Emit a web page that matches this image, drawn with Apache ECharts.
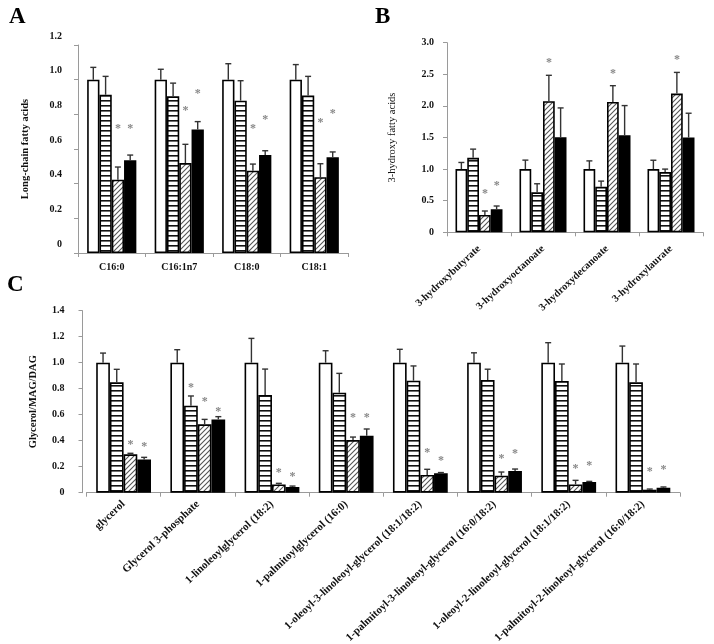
<!DOCTYPE html>
<html><head><meta charset="utf-8">
<script src="https://cdn.jsdelivr.net/npm/echarts@6/dist/echarts.min.js"></script>
<style>html,body{margin:0;padding:0;background:#fff}#c{width:714px;height:644px}</style>
</head><body><div id="c"></div>
<script>
// ---------- Panel A ----------
const catsA = ['C16:0','C16:1n7','C18:0','C18:1'];
const ticksA = [0,0.2,0.4,0.6,0.8,1.0,1.2];
const aWhite = [1,1,1,1];
const aWhiteErr = [1.071,1.06,1.092,1.087];
const aHbar = [0.913,0.904,0.879,0.908];
const aHbarErr = [1.019,0.98,0.994,1.019];
const aHatch = [0.423,0.519,0.475,0.437];
const aHatchErr = [0.496,0.627,0.513,0.515];
const aBlack = [0.535,0.712,0.565,0.552];
const aBlackErr = [0.565,0.758,0.59,0.583];
const aHatchStar = [0.735,0.837,0.735,0.765];
const aBlackStar = [0.735,0.933,0.788,0.821];
// ---------- Panel B ----------
const catsB = ['3-hydroxybutyrate','3-hydroxyoctanoate','3-hydroxydecanoate','3-hydroxylaurate'];
const ticksB = [0,0.5,1.0,1.5,2.0,2.5,3.0];
const bWhite = [1,1,1,1];
const bWhiteErr = [1.105,1.142,1.13,1.14];
const bHbar = [1.179,0.632,0.72,0.953];
const bHbarErr = [1.316,0.768,0.81,1.0];
const bHatch = [0.274,2.074,2.063,2.195];
const bHatchErr = [0.337,2.484,2.32,2.53];
const bBlack = [0.363,1.505,1.537,1.5];
const bBlackErr = [0.416,1.968,2.005,1.884];
const bHatchStar = [0.653,2.72,2.56,2.78];
const bBlackStar = [0.774,null,null,null];
// ---------- Panel C ----------
const catsC = ['glycerol','Glycerol 3-phosphate','1-linoleoylglycerol (18:2)','1-palmitoylglycerol (16:0)',
  '1-oleoyl-3-linoleoyl-glycerol (18:1/18:2)','1-palmitoyl-3-linoleoyl-glycerol (16:0/18:2)',
  '1-oleoyl-2-linoleoyl-glycerol (18:1/18:2)','1-palmitoyl-2-linoleoyl-glycerol (16:0/18:2)'];
const ticksC = [0,0.2,0.4,0.6,0.8,1.0,1.2,1.4];
const cWhite = [1,1,1,1,1,1,1,1];
const cWhiteErr = [1.074,1.10,1.187,1.092,1.103,1.076,1.154,1.128];
const cHbar = [0.849,0.669,0.751,0.769,0.862,0.867,0.859,0.849];
const cHbarErr = [0.949,0.744,0.951,0.918,0.975,0.95,0.99,0.99];
const cHatch = [0.295,0.526,0.064,0.405,0.136,0.131,0.064,0.023];
const cHatchErr = [0.303,0.564,0.072,0.428,0.18,0.159,0.095,0.028];
const cBlack = [0.256,0.564,0.044,0.438,0.149,0.167,0.082,0.038];
const cBlackErr = [0.272,0.585,0.051,0.49,0.155,0.182,0.087,0.044];
const cHbarStar = [null,0.833,null,null,null,null,null,null];
const cHatchStar = [0.392,0.718,0.179,0.597,0.328,0.285,0.208,0.182];
const cBlackStar = [0.379,0.641,0.146,0.598,0.264,0.318,0.226,0.2];

const FONT = "'Liberation Serif','Times New Roman',serif";

function stripeCanvas(){
  const c=document.createElement('canvas'); c.width=4; c.height=5;
  const g=c.getContext('2d'); g.fillStyle='#fff'; g.fillRect(0,0,4,5);
  g.fillStyle='#111'; g.fillRect(0,0,4,1.6); return c;
}
function hatchCanvas(){
  const c=document.createElement('canvas'); c.width=5; c.height=5;
  const g=c.getContext('2d'); g.fillStyle='#fff'; g.fillRect(0,0,5,5);
  g.strokeStyle='#555'; g.lineWidth=1.1; g.beginPath();
  g.moveTo(-1,6); g.lineTo(6,-1);
  g.moveTo(-1,1); g.lineTo(1,-1);
  g.moveTo(4,6); g.lineTo(6,4);
  g.stroke(); return c;
}
const fills = ['#ffffff', {image: stripeCanvas(), repeat:'repeat'}, {image: hatchCanvas(), repeat:'repeat'}, '#000000'];

function fmt(v){ return v===0 ? '0' : v.toFixed(1); }

function barSeries(idx, vals, k, bw){
  return {type:'bar', xAxisIndex:idx, yAxisIndex:idx, data:vals, barWidth:bw, barGap:'0%',
    itemStyle:{color:fills[k], borderColor:'#000', borderWidth:1.6}, silent:true, z:2};
}
function errSeries(idx, vals, errs, stars, bw){
  const data=[];
  for(let k=0;k<4;k++){
    for(let i=0;i<vals[k].length;i++){
      const s = stars[k] ? stars[k][i] : null;
      data.push([i,k,vals[k][i],errs[k][i], s==null?-1:s]);
    }
  }
  return {type:'custom', xAxisIndex:idx, yAxisIndex:idx, data, z:5, silent:true,
    renderItem:function(params, api){
      const cat=api.value(0), k=api.value(1), v=api.value(2), e=api.value(3), s=api.value(4);
      const p0=api.coord([cat,v]);
      const x=p0[0]+(k-1.5)*bw;
      const ch=[];
      const yt=api.coord([cat,e])[1];
      ch.push({type:'line',shape:{x1:x,y1:p0[1],x2:x,y2:yt},style:{stroke:'#333',lineWidth:1.4}});
      ch.push({type:'line',shape:{x1:x-3,y1:yt,x2:x+3,y2:yt},style:{stroke:'#333',lineWidth:1.4}});
      if(s>=0){
        const ys=api.coord([cat,s])[1];
        ch.push({type:'text',style:{x:x,y:ys+3,text:'*',fill:'#888',font:'bold 12px '+FONT,align:'center',verticalAlign:'middle'}});
      }
      return {type:'group',children:ch};
    }};
}

const axisLine={show:true,lineStyle:{color:'#9a9a9a',width:1}};
const axisTick={show:true,length:4,lineStyle:{color:'#9a9a9a'}};

const bwA=12.3, bwB=11.75, bwC=13.7;

const option={
  animation:false,
  backgroundColor:'#fff',
  grid:[
    {left:78,right:366,top:45,bottom:391,containLabel:false,outerBoundsMode:'none'},
    {left:447,right:11,top:42.7,bottom:411.7,containLabel:false,outerBoundsMode:'none'},
    {left:86.5,right:34,top:310.7,bottom:151.3,containLabel:false,outerBoundsMode:'none'}
  ],
  xAxis:[
    {type:'category',gridIndex:0,data:catsA,axisLine,axisTick,
     axisLabel:{fontFamily:FONT,fontWeight:'bold',fontSize:10,color:'#111',margin:9}},
    {type:'category',gridIndex:1,data:catsB,axisLine,axisTick,
     axisLabel:{fontFamily:FONT,fontWeight:'bold',fontSize:10.5,color:'#111',rotate:43,margin:15,interval:0}},
    {type:'category',gridIndex:2,data:catsC,axisLine,axisTick,
     axisLabel:{fontFamily:FONT,fontWeight:'bold',fontSize:11,color:'#111',rotate:43,margin:10,interval:0}}
  ],
  yAxis:[
    {type:'value',gridIndex:0,min:ticksA[0],max:ticksA[ticksA.length-1],interval:0.2,axisLine,axisTick,splitLine:{show:false},
     axisLabel:{fontFamily:FONT,fontWeight:'bold',fontSize:10,color:'#111',margin:16,formatter:fmt,verticalAlign:'bottom',padding:[0,0,4,0]},
     name:'Long-chain fatty acids',nameLocation:'middle',nameRotate:90,nameGap:47,
     nameTextStyle:{fontFamily:FONT,fontWeight:'bold',fontSize:10.5,color:'#111'}},
    {type:'value',gridIndex:1,min:ticksB[0],max:ticksB[ticksB.length-1],interval:0.5,axisLine,axisTick,splitLine:{show:false},
     axisLabel:{fontFamily:FONT,fontWeight:'bold',fontSize:10,color:'#111',margin:13,formatter:fmt},
     name:'3-hydroxy fatty acids',nameLocation:'middle',nameRotate:90,nameGap:49,
     nameTextStyle:{fontFamily:FONT,fontSize:10.5,color:'#111'}},
    {type:'value',gridIndex:2,min:ticksC[0],max:ticksC[ticksC.length-1],interval:0.2,offset:4,axisLine,axisTick,splitLine:{show:false},
     axisLabel:{fontFamily:FONT,fontWeight:'bold',fontSize:10,color:'#111',margin:18,formatter:fmt},
     name:'Glycerol/MAG/DAG',nameLocation:'middle',nameRotate:90,nameGap:44,
     nameTextStyle:{fontFamily:FONT,fontWeight:'bold',fontSize:10.5,color:'#111'}}
  ],
  graphic:[
    {type:'text',left:9,top:6,style:{text:'A',font:'bold 23px '+FONT,fill:'#000'}},
    {type:'text',left:375,top:6,style:{text:'B',font:'bold 23px '+FONT,fill:'#000'}},
    {type:'text',left:7,top:274,style:{text:'C',font:'bold 23px '+FONT,fill:'#000'}}
  ],
  series:[
    barSeries(0,aWhite,0,bwA), barSeries(0,aHbar,1,bwA), barSeries(0,aHatch,2,bwA), barSeries(0,aBlack,3,bwA),
    errSeries(0,[aWhite,aHbar,aHatch,aBlack],[aWhiteErr,aHbarErr,aHatchErr,aBlackErr],[null,null,aHatchStar,aBlackStar],bwA),
    barSeries(1,bWhite,0,bwB), barSeries(1,bHbar,1,bwB), barSeries(1,bHatch,2,bwB), barSeries(1,bBlack,3,bwB),
    errSeries(1,[bWhite,bHbar,bHatch,bBlack],[bWhiteErr,bHbarErr,bHatchErr,bBlackErr],[null,null,bHatchStar,bBlackStar],bwB),
    barSeries(2,cWhite,0,bwC), barSeries(2,cHbar,1,bwC), barSeries(2,cHatch,2,bwC), barSeries(2,cBlack,3,bwC),
    errSeries(2,[cWhite,cHbar,cHatch,cBlack],[cWhiteErr,cHbarErr,cHatchErr,cBlackErr],[null,cHbarStar,cHatchStar,cBlackStar],bwC)
  ]
};
const chart=echarts.init(document.getElementById('c'),null,{renderer:'canvas'});
chart.setOption(option);
</script></body></html>
